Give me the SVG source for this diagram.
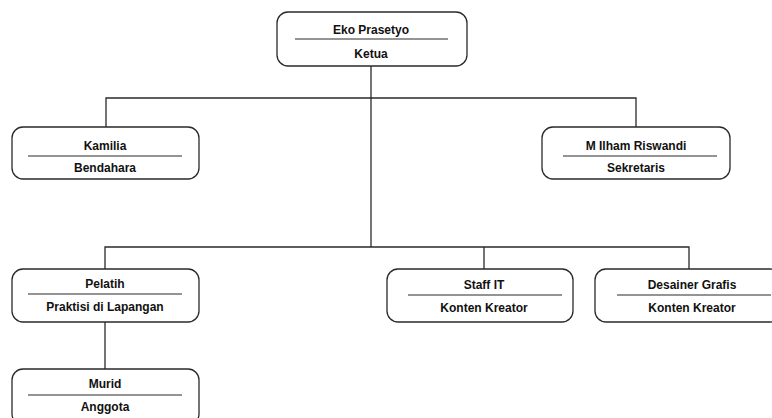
<svg xmlns="http://www.w3.org/2000/svg" width="772" height="418" viewBox="0 0 772 418">
<style>
.box{fill:#fff;stroke:#2a2a2a;stroke-width:1.3}
.div{stroke:#2a2a2a;stroke-width:1.2}
.t{font-family:"Liberation Sans",Arial,sans-serif;font-size:12px;font-weight:bold;fill:#111;text-anchor:middle}
.c{fill:none;stroke:#2a2a2a;stroke-width:1.3}
</style>
<rect width="772" height="418" fill="#fff"/>
<g id="connectors">
<path class="c" d="M371 66V247"/>
<path class="c" d="M106 127V98H636V127"/>
<path class="c" d="M105 269V247H689V269"/>
<path class="c" d="M484 247V269"/>
<path class="c" d="M105 322V369"/>
</g>
<g id="ketua">
<rect class="box" x="277" y="12" width="190" height="54" rx="11"/>
<line class="div" x1="295" y1="39" x2="448" y2="39"/>
<text class="t" x="371" y="34">Eko Prasetyo</text>
<text class="t" x="371" y="58">Ketua</text>
</g>
<g id="bendahara">
<rect class="box" x="12" y="127" width="187" height="52" rx="11"/>
<line class="div" x1="28" y1="156" x2="182" y2="156"/>
<text class="t" x="105" y="150">Kamilia</text>
<text class="t" x="105" y="172">Bendahara</text>
</g>
<g id="sekretaris">
<rect class="box" x="542" y="127" width="188" height="52" rx="11"/>
<line class="div" x1="563" y1="156" x2="717" y2="156"/>
<text class="t" x="636" y="150">M Ilham Riswandi</text>
<text class="t" x="636" y="172">Sekretaris</text>
</g>
<g id="pelatih">
<rect class="box" x="12" y="269" width="187" height="53" rx="11"/>
<line class="div" x1="28" y1="294" x2="182" y2="294"/>
<text class="t" x="105" y="288">Pelatih</text>
<text class="t" x="105" y="311">Praktisi di Lapangan</text>
</g>
<g id="staff-it">
<rect class="box" x="387" y="269" width="186" height="53" rx="11"/>
<line class="div" x1="408" y1="295" x2="562" y2="295"/>
<text class="t" x="484" y="289">Staff IT</text>
<text class="t" x="484" y="312">Konten Kreator</text>
</g>
<g id="desainer">
<rect class="box" x="595" y="269" width="186" height="53" rx="11"/>
<line class="div" x1="617" y1="295" x2="771" y2="295"/>
<text class="t" x="692" y="289">Desainer Grafis</text>
<text class="t" x="692" y="312">Konten Kreator</text>
</g>
<g id="murid">
<rect class="box" x="12" y="369" width="187" height="56" rx="11"/>
<line class="div" x1="28" y1="395" x2="182" y2="395"/>
<text class="t" x="105" y="388">Murid</text>
<text class="t" x="105" y="411">Anggota</text>
</g>
</svg>
